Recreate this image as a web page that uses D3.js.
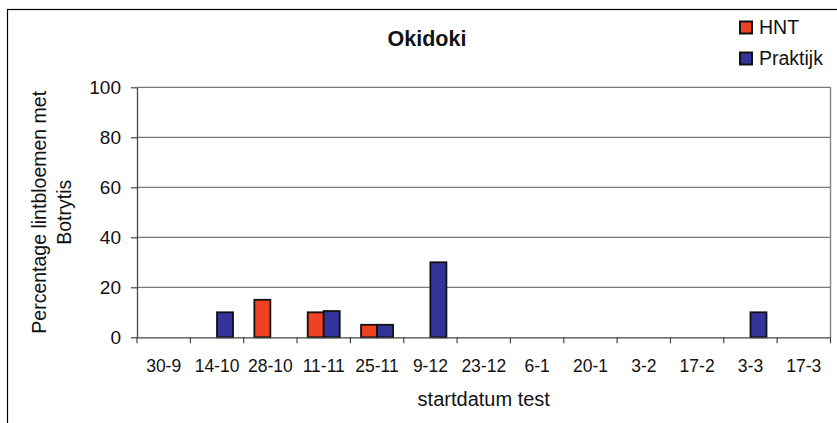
<!DOCTYPE html>
<html>
<head>
<meta charset="utf-8">
<script src="https://cdn.jsdelivr.net/npm/d3@7"></script>
<style>
  html, body { margin: 0; padding: 0; background: #fff; }
  svg { display: block; font-family: Arial, "Liberation Sans", sans-serif; }
</style>
</head>
<body>
<svg id="chart" width="837" height="423"></svg>
<script>
// Startdata of the tests (x categories)
const categories = ["30-9", "14-10", "28-10", "11-11", "25-11", "9-12", "23-12", "6-1", "20-1", "3-2", "17-2", "3-3", "17-3"];
// Percentage ray florets with Botrytis; null = no bar
const hntValues = [null, null, 15, 10, 5, null, null, null, null, null, null, null, null];
const praktijkValues = [null, 10, null, 10.5, 5, 30, null, null, null, null, null, 10, null];
const seriesNames = ["HNT", "Praktijk"];
const yTicks = [0, 20, 40, 60, 80, 100];

const colors = { HNT: "#F04123", Praktijk: "#333399" };
const FONT = "Arial, 'Liberation Sans', sans-serif";

const svg = d3.select("#chart");
const W = 837, H = 423;
const plot = { left: 137, right: 830.5, top: 87.3, bottom: 337.3 };

// Outer chart border
svg.append("rect")
  .attr("x", 7.5).attr("y", 9.5)
  .attr("width", W).attr("height", H)
  .attr("fill", "none").attr("stroke", "#000").attr("stroke-width", 1.2);

const x = d3.scaleBand().domain(categories).range([plot.left, plot.right]);
const y = d3.scaleLinear().domain([0, 100]).range([plot.bottom, plot.top]);
const barW = x.bandwidth() * 0.3;

// Horizontal gridlines
svg.append("g").selectAll("line").data(yTicks.filter(d => d > 0)).join("line")
  .attr("x1", plot.left).attr("x2", plot.right)
  .attr("y1", d => y(d)).attr("y2", d => y(d))
  .attr("stroke", "#7a7a7a").attr("stroke-width", 1.2);

// Right border of plot area
svg.append("line")
  .attr("x1", plot.right).attr("x2", plot.right)
  .attr("y1", plot.top).attr("y2", plot.bottom)
  .attr("stroke", "#8a8a8a").attr("stroke-width", 1.5);

// Bars
const rows = categories.map((c, i) => ({ c, HNT: hntValues[i], Praktijk: praktijkValues[i] }));
const barG = svg.append("g");
seriesNames.forEach((s, si) => {
  barG.selectAll(".bar-" + s).data(rows.filter(r => r[s] != null)).join("rect")
    .attr("x", r => x(r.c) + x.bandwidth() / 2 + (si === 0 ? -barW : 0))
    .attr("y", r => y(r[s]))
    .attr("width", barW)
    .attr("height", r => y(0) - y(r[s]))
    .attr("fill", colors[s])
    .attr("stroke", "#111").attr("stroke-width", 1.8);
});

// Y axis
const yAxis = svg.append("g")
  .attr("transform", `translate(${plot.left},0)`)
  .call(d3.axisLeft(y).tickValues(yTicks).tickSize(6).tickPadding(10).tickSizeOuter(0));
yAxis.select(".domain").attr("stroke", "#444").attr("stroke-width", 1.3);
yAxis.selectAll(".tick line").attr("stroke", "#444").attr("stroke-width", 1.2);
yAxis.selectAll(".tick text").attr("font-size", 19).attr("fill", "#111").attr("font-family", FONT);

// X axis with ticks at category boundaries
const xAxis = svg.append("g")
  .attr("transform", `translate(0,${plot.bottom})`)
  .call(d3.axisBottom(x).tickSize(0).tickPadding(22).tickSizeOuter(0));
xAxis.select(".domain").attr("stroke", "#444").attr("stroke-width", 1.3);
xAxis.selectAll(".tick text").attr("font-size", 17.5).attr("fill", "#111").attr("font-family", FONT);
const bounds = categories.map(c => x(c)).concat([plot.right]);
svg.append("g").selectAll("line").data(bounds).join("line")
  .attr("x1", d => d).attr("x2", d => d)
  .attr("y1", plot.bottom).attr("y2", plot.bottom + 6)
  .attr("stroke", "#444").attr("stroke-width", 1.2);

// Title
svg.append("text")
  .attr("x", 427).attr("y", 46)
  .attr("text-anchor", "middle")
  .attr("font-size", 21.5).attr("font-weight", "bold").attr("fill", "#111")
  .text("Okidoki");

// Axis titles
svg.append("text")
  .attr("x", (plot.left + plot.right) / 2).attr("y", 406)
  .attr("text-anchor", "middle").attr("font-size", 20).attr("fill", "#111")
  .text("startdatum test");

const yt = svg.append("text")
  .attr("transform", `translate(0,${(plot.top + plot.bottom) / 2}) rotate(-90)`)
  .attr("text-anchor", "middle").attr("font-size", 19.5).attr("fill", "#111");
yt.append("tspan").attr("x", 0).attr("y", 46).text("Percentage lintbloemen met");
yt.append("tspan").attr("x", 0).attr("y", 71).text("Botrytis");

// Legend
const legend = svg.append("g");
seriesNames.forEach((s, i) => {
  const ly = 21.5 + i * 31;
  legend.append("rect")
    .attr("x", 740).attr("y", ly).attr("width", 12).attr("height", 12)
    .attr("fill", colors[s]).attr("stroke", "#111").attr("stroke-width", 2);
  legend.append("text")
    .attr("x", 759).attr("y", ly + 12.8)
    .attr("font-size", 19.5).attr("fill", "#111")
    .text(s);
});
</script>
</body>
</html>
